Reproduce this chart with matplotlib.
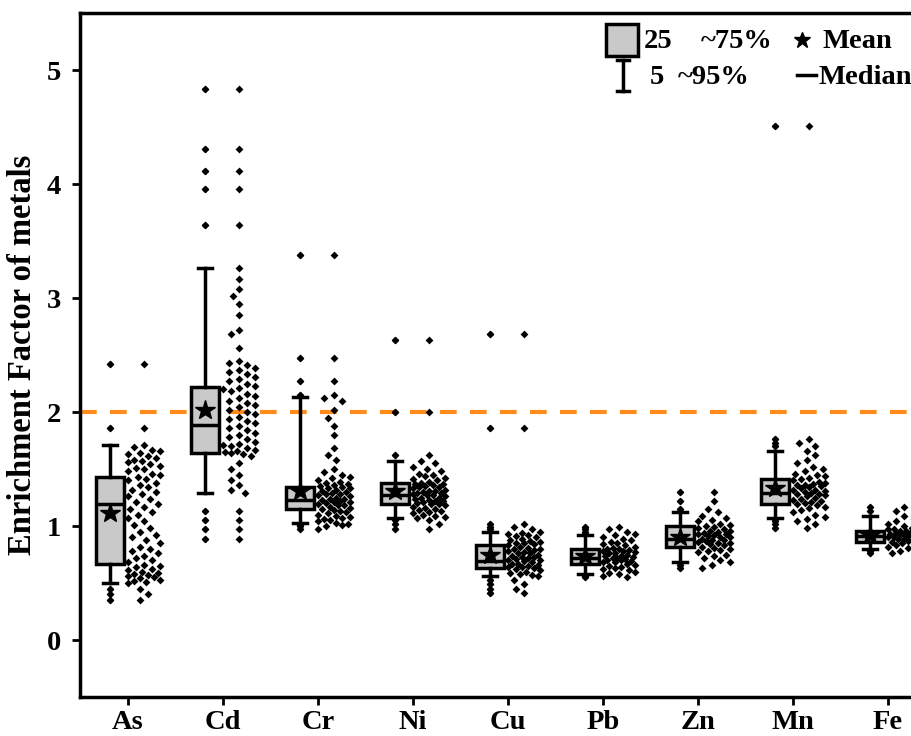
import numpy as np
import matplotlib
matplotlib.use("Agg")
import matplotlib.pyplot as plt
from matplotlib.patches import Rectangle
from matplotlib.lines import Line2D

plt.rcParams['font.family'] = ['Liberation Serif', 'DejaVu Serif']
plt.rcParams['font.weight'] = 'bold'

metals = ["As", "Cd", "Cr", "Ni", "Cu", "Pb", "Zn", "Mn", "Fe"]

# box statistics (5-95 whiskers)
q1s   = [0.67, 1.64, 1.15, 1.19, 0.63, 0.67, 0.82, 1.19, 0.86]
meds  = [1.19, 1.89, 1.23, 1.27, 0.69, 0.72, 0.89, 1.29, 0.91]
q3s   = [1.43, 2.22, 1.34, 1.38, 0.83, 0.80, 1.00, 1.41, 0.96]
lows  = [0.50, 1.29, 1.03, 1.07, 0.56, 0.58, 0.68, 1.07, 0.80]
highs = [1.71, 3.26, 2.13, 1.57, 0.95, 0.92, 1.12, 1.66, 1.09]
means = [1.11, 2.02, 1.31, 1.31, 0.75, 0.74, 0.90, 1.33, 0.92]

# individual samples
as_vals = [2.42, 1.86, 1.71, 1.69, 1.67, 1.66, 1.64, 1.63, 1.61, 1.60, 1.58, 1.57, 1.56,
           1.54, 1.53, 1.51, 1.50, 1.48, 1.46, 1.45, 1.43, 1.41, 1.40, 1.38, 1.36, 1.34,
           1.32, 1.30, 1.28, 1.26, 1.24, 1.21, 1.19, 1.17, 1.15, 1.12, 1.10, 1.07, 1.04,
           1.01, 0.98, 0.95, 0.92, 0.90, 0.88, 0.85, 0.82, 0.80, 0.78, 0.76, 0.74, 0.72,
           0.70, 0.68, 0.66, 0.65, 0.64, 0.62, 0.61, 0.60, 0.59, 0.58, 0.57, 0.56, 0.55,
           0.54, 0.53, 0.52, 0.51, 0.50, 0.45, 0.40, 0.35]
cd_vals = [4.83, 4.31, 4.11, 3.96, 3.64, 3.26, 3.17, 3.08, 3.02, 2.95, 2.85, 2.72, 2.68,
           2.56, 2.45, 2.43, 2.41, 2.39, 2.37, 2.35, 2.33, 2.31, 2.29, 2.27, 2.25, 2.23,
           2.21, 2.20, 2.18, 2.16, 2.14, 2.12, 2.10, 2.08, 2.06, 2.04, 2.02, 2.00, 1.98,
           1.96, 1.94, 1.92, 1.90, 1.88, 1.86, 1.84, 1.82, 1.80, 1.78, 1.76, 1.74, 1.72,
           1.71, 1.70, 1.68, 1.67, 1.66, 1.65, 1.64, 1.63, 1.61, 1.55, 1.50, 1.45, 1.40,
           1.36, 1.32, 1.29, 1.13, 1.05, 0.97, 0.89]
cr_vals = [3.38, 2.47, 2.27, 2.15, 2.12, 2.10, 2.02, 1.95, 1.88, 1.80, 1.68, 1.62, 1.58,
           1.50, 1.47, 1.45, 1.43, 1.42, 1.40, 1.39, 1.38, 1.37, 1.36, 1.35, 1.34, 1.33,
           1.33, 1.32, 1.31, 1.30, 1.29, 1.28, 1.28, 1.27, 1.26, 1.25, 1.24, 1.24, 1.23,
           1.22, 1.21, 1.21, 1.20, 1.19, 1.18, 1.18, 1.17, 1.16, 1.15, 1.14, 1.13, 1.12,
           1.11, 1.10, 1.09, 1.08, 1.07, 1.06, 1.05, 1.04, 1.03, 1.02, 1.01, 1.00, 0.97]
ni_vals = [2.63, 2.00, 1.62, 1.57, 1.55, 1.52, 1.50, 1.48, 1.46, 1.45, 1.44, 1.42, 1.41,
           1.40, 1.39, 1.38, 1.37, 1.37, 1.36, 1.35, 1.34, 1.34, 1.33, 1.32, 1.31, 1.31,
           1.30, 1.29, 1.29, 1.28, 1.27, 1.27, 1.26, 1.25, 1.25, 1.24, 1.23, 1.22, 1.22,
           1.21, 1.20, 1.19, 1.19, 1.18, 1.17, 1.16, 1.15, 1.14, 1.13, 1.12, 1.11, 1.10,
           1.09, 1.08, 1.07, 1.05, 1.02, 0.97]
cu_vals = [2.68, 1.86, 1.02, 0.99, 0.97, 0.95, 0.94, 0.93, 0.92, 0.91, 0.90, 0.89, 0.88,
           0.87, 0.86, 0.85, 0.85, 0.84, 0.83, 0.82, 0.81, 0.80, 0.80, 0.79, 0.78, 0.77,
           0.76, 0.76, 0.75, 0.74, 0.73, 0.73, 0.72, 0.71, 0.70, 0.70, 0.69, 0.68, 0.67,
           0.67, 0.66, 0.65, 0.64, 0.64, 0.63, 0.62, 0.61, 0.60, 0.59, 0.58, 0.57, 0.56,
           0.53, 0.49, 0.45, 0.41]
pb_vals = [0.99, 0.97, 0.95, 0.93, 0.92, 0.90, 0.89, 0.88, 0.86, 0.85, 0.84, 0.83, 0.82,
           0.81, 0.80, 0.80, 0.79, 0.78, 0.78, 0.77, 0.76, 0.76, 0.75, 0.74, 0.74, 0.73,
           0.72, 0.72, 0.71, 0.70, 0.70, 0.69, 0.68, 0.68, 0.67, 0.66, 0.65, 0.64, 0.63,
           0.62, 0.61, 0.60, 0.59, 0.58, 0.56, 0.55]
zn_vals = [1.30, 1.22, 1.15, 1.12, 1.09, 1.07, 1.05, 1.04, 1.02, 1.01, 1.00, 0.99, 0.98,
           0.97, 0.96, 0.96, 0.95, 0.94, 0.93, 0.93, 0.92, 0.91, 0.90, 0.90, 0.89, 0.88,
           0.88, 0.87, 0.86, 0.85, 0.85, 0.84, 0.83, 0.82, 0.81, 0.80, 0.79, 0.78, 0.77,
           0.75, 0.74, 0.72, 0.70, 0.68, 0.66, 0.63]
mn_vals = [4.51, 1.76, 1.73, 1.70, 1.66, 1.62, 1.58, 1.55, 1.52, 1.50, 1.48, 1.46, 1.45,
           1.44, 1.42, 1.41, 1.40, 1.39, 1.38, 1.37, 1.36, 1.36, 1.35, 1.34, 1.33, 1.32,
           1.32, 1.31, 1.30, 1.29, 1.28, 1.28, 1.27, 1.26, 1.25, 1.24, 1.23, 1.22, 1.21,
           1.20, 1.19, 1.18, 1.17, 1.16, 1.14, 1.12, 1.10, 1.08, 1.06, 1.04, 1.02, 0.98]
fe_vals = [1.17, 1.13, 1.09, 1.06, 1.04, 1.02, 1.00, 0.99, 0.98, 0.97, 0.97, 0.96, 0.96,
           0.95, 0.95, 0.94, 0.94, 0.93, 0.93, 0.92, 0.92, 0.91, 0.91, 0.90, 0.90, 0.89,
           0.89, 0.88, 0.88, 0.87, 0.86, 0.86, 0.85, 0.84, 0.83, 0.82, 0.81, 0.80, 0.78,
           0.76]
samples = [as_vals, cd_vals, cr_vals, ni_vals, cu_vals, pb_vals, zn_vals, mn_vals, fe_vals]

threshold = 2.0

fig = plt.figure(figsize=(9.12, 7.36), dpi=100)
# axes runs past the right edge of the figure, like the cropped original
ax = fig.add_axes([80.5 / 912, 39 / 736, 855 / 912, 684 / 736])
ax.set_xlim(-0.5, 8.5)
ax.set_ylim(-0.5, 5.5)

pos = np.arange(len(metals))
box_off = -0.19
pts_off = 0.17

stats = []
for i in range(len(metals)):
    v = np.array(samples[i])
    fl = v[(v > highs[i]) | (v < lows[i])]
    stats.append(dict(med=meds[i], q1=q1s[i], q3=q3s[i], whislo=lows[i],
                      whishi=highs[i], mean=means[i], fliers=fl))

ax.bxp(stats, positions=pos + box_off, widths=0.29, capwidths=0.15,
       showmeans=True, patch_artist=True,
       boxprops=dict(facecolor='#c9c9c9', edgecolor='black', linewidth=2.5),
       medianprops=dict(color='black', linewidth=2.5),
       whiskerprops=dict(color='black', linewidth=2.5),
       capprops=dict(color='black', linewidth=2.5),
       meanprops=dict(marker='*', markerfacecolor='black', markeredgecolor='black',
                      markersize=15),
       flierprops=dict(marker='D', markerfacecolor='black', markeredgecolor='black',
                       markersize=3.2))


def swarm_offsets(vals, dot=9.0, half=16):
    # loose beeswarm in pixel space: isolated points stay centred, crowded ones spread out
    px_x = 855 / 9.0
    px_y = 684 / 6.0
    ys = np.array(vals) * px_y
    cand = np.arange(-half, half + 1, 2.0)
    cand = cand[np.argsort(np.abs(cand), kind='stable')]
    placed = []
    out = np.zeros(len(vals))
    for j, y in enumerate(ys):
        best, best_d = 0.0, -1.0
        for c in cand:
            if placed:
                pts = np.array(placed)
                d = np.min(np.hypot(pts[:, 0] - c, pts[:, 1] - y))
            else:
                d = 1e9
            if d >= dot:
                best = c
                break
            if d > best_d:
                best, best_d = c, d
        placed.append((best, y))
        out[j] = best / px_x
    return out


for i, v in enumerate(samples):
    off = swarm_offsets(v)
    ax.scatter(pos[i] + pts_off + off, v, marker='D', s=16, color='black',
               linewidths=0, zorder=3)

ax.axhline(threshold, color='#ff8c1a', linestyle=(0, (4, 3.2)), linewidth=3, zorder=1)

ax.set_xticks(pos)
ax.set_xticklabels(metals)
ax.set_yticks([0, 1, 2, 3, 4, 5])
ax.tick_params(axis='both', labelsize=20.5, width=2, length=6, direction='out')
ax.tick_params(axis='y', pad=8)
for lbl in ax.get_xticklabels() + ax.get_yticklabels():
    lbl.set_fontweight('bold')
for sp in ax.spines.values():
    sp.set_linewidth(2.5)
ax.set_ylabel('Enrichment Factor of metals', fontsize=23.5, fontweight='bold', labelpad=6)

# hand-drawn legend in figure pixels (top right)
W, H = 912.0, 736.0
def fx(x):
    return x / W
def fy(y):
    return 1 - y / H

fig.patches.append(Rectangle((fx(606), fy(56)), 32 / W, 32 / H, transform=fig.transFigure,
                             facecolor='#c9c9c9', edgecolor='black', linewidth=2.5))
fig.lines.append(Line2D([fx(623), fx(623)], [fy(60), fy(91)], transform=fig.transFigure,
                        color='black', linewidth=2.5))
fig.lines.append(Line2D([fx(617), fx(629)], [fy(60), fy(60)], transform=fig.transFigure,
                        color='black', linewidth=2.5))
fig.lines.append(Line2D([fx(617), fx(629)], [fy(91), fy(91)], transform=fig.transFigure,
                        color='black', linewidth=2.5))
fig.lines.append(Line2D([fx(802)], [fy(40)], transform=fig.transFigure, marker='*',
                        color='black', markersize=12, linestyle='none'))
fig.lines.append(Line2D([fx(797), fx(816)], [fy(75), fy(75)], transform=fig.transFigure,
                        color='black', linewidth=2.5))
tkw = dict(fontsize=20.5, fontweight='bold', va='center', ha='left')
fig.text(fx(644), fy(41), '25', **tkw)
fig.text(fx(701), fy(41), '~75%', **tkw)
fig.text(fx(823), fy(41), 'Mean', **tkw)
fig.text(fx(650), fy(77), '5', **tkw)
fig.text(fx(678), fy(77), '~95%', **tkw)
fig.text(fx(819), fy(77), 'Median', **tkw)

fig.savefig('out.png', dpi=100)
